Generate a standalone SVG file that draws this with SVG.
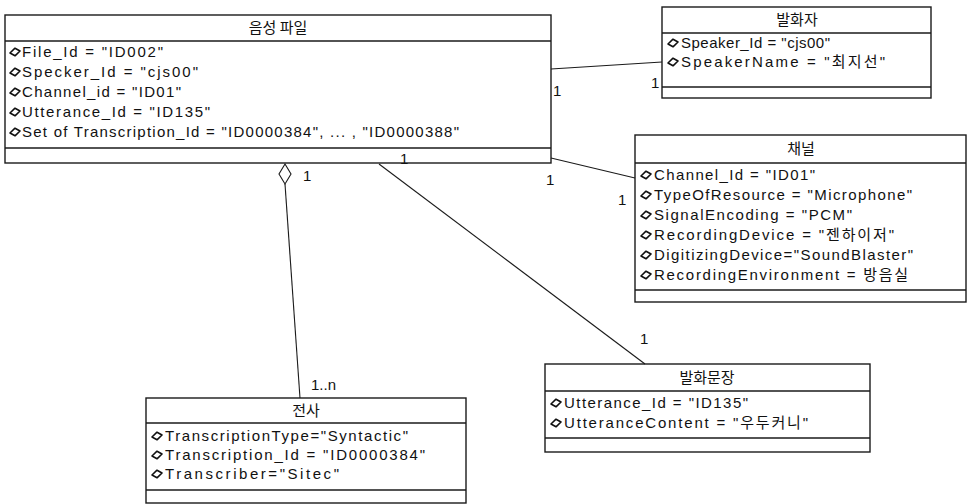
<svg xmlns="http://www.w3.org/2000/svg" width="968" height="504" viewBox="0 0 968 504">
<style>
.box{fill:#fff;stroke:#1a1a1a;stroke-width:1.4}
.sep{stroke:#1a1a1a;stroke-width:1.3;fill:none}
.conn{stroke:#1a1a1a;stroke-width:1.1;fill:none}
.t{font-family:"Liberation Sans","Noto Sans CJK KR",sans-serif;font-size:15px;fill:#111}
.ttl{font-family:"Noto Sans CJK KR","Liberation Sans",sans-serif;font-size:15px;fill:#111;text-anchor:middle}
.m{font-family:"Liberation Sans",sans-serif;font-size:15px;fill:#111}
</style>
<defs>
<polygon id="ai" points="-5,1 0,-3.8 5,-1 0,3.8" fill="#fff" stroke="#111" stroke-width="1.6" stroke-linejoin="round"/>
</defs>

<g id="node-audio">
<rect class="box" x="5" y="15" width="546" height="148"/>
<line class="sep" x1="5" y1="41" x2="551" y2="41"/>
<line class="sep" x1="5" y1="148" x2="551" y2="148"/>
<text class="ttl" x="278" y="33">음성 파일</text>
<use href="#ai" x="15" y="52"/>
<text class="t" x="22" y="57" textLength="141">File_Id = "ID002"</text>
<use href="#ai" x="15" y="72"/>
<text class="t" x="22" y="77" textLength="176">Specker_Id = "cjs00"</text>
<use href="#ai" x="15" y="92"/>
<text class="t" x="22" y="97" textLength="159">Channel_id = "ID01"</text>
<use href="#ai" x="15" y="112"/>
<text class="t" x="22" y="117" textLength="188">Utterance_Id = "ID135"</text>
<use href="#ai" x="15" y="132"/>
<text class="t" x="22" y="137" textLength="437">Set of Transcription_Id = "ID0000384", ... , "ID0000388"</text>
</g>

<g id="node-speaker">
<rect class="box" x="662" y="7" width="269" height="91"/>
<line class="sep" x1="662" y1="33" x2="931" y2="33"/>
<line class="sep" x1="662" y1="87" x2="931" y2="87"/>
<text class="ttl" x="797" y="25">발화자</text>
<use href="#ai" x="673" y="43"/>
<text class="t" x="681" y="48" textLength="149">Speaker_Id = "cjs00"</text>
<use href="#ai" x="673" y="62"/>
<text class="t" x="681" y="67" textLength="204">SpeakerName = "최지선"</text>
</g>

<g id="node-channel">
<rect class="box" x="635" y="135" width="331" height="167"/>
<line class="sep" x1="635" y1="163" x2="966" y2="163"/>
<line class="sep" x1="635" y1="290" x2="966" y2="290"/>
<text class="ttl" x="801" y="154">채널</text>
<use href="#ai" x="646" y="175"/>
<text class="t" x="654" y="180" textLength="161">Channel_Id = "ID01"</text>
<use href="#ai" x="646" y="195"/>
<text class="t" x="654" y="200" textLength="258">TypeOfResource = "Microphone"</text>
<use href="#ai" x="646" y="215"/>
<text class="t" x="654" y="220" textLength="198">SignalEncoding = "PCM"</text>
<use href="#ai" x="646" y="235"/>
<text class="t" x="654" y="240" textLength="240">RecordingDevice = "젠하이저"</text>
<use href="#ai" x="646" y="255"/>
<text class="t" x="654" y="260" textLength="259">DigitizingDevice="SoundBlaster"</text>
<use href="#ai" x="646" y="275"/>
<text class="t" x="654" y="280" textLength="254">RecordingEnvironment = 방음실</text>
</g>

<g id="node-utterance">
<rect class="box" x="545" y="364" width="325" height="88"/>
<line class="sep" x1="545" y1="391" x2="870" y2="391"/>
<line class="sep" x1="545" y1="438" x2="870" y2="438"/>
<text class="ttl" x="707" y="383">발화문장</text>
<use href="#ai" x="556" y="403"/>
<text class="t" x="564" y="408" textLength="184">Utterance_Id = "ID135"</text>
<use href="#ai" x="556" y="423"/>
<text class="t" x="564" y="428" textLength="244">UtteranceContent = "우두커니"</text>
</g>

<g id="node-transcription">
<rect class="box" x="146" y="398" width="320" height="105"/>
<line class="sep" x1="146" y1="423" x2="466" y2="423"/>
<line class="sep" x1="146" y1="490" x2="466" y2="490"/>
<text class="ttl" x="306" y="416">전사</text>
<use href="#ai" x="157" y="436"/>
<text class="t" x="165" y="441" textLength="243">TranscriptionType="Syntactic"</text>
<use href="#ai" x="157" y="455"/>
<text class="t" x="165" y="460" textLength="260">Transcription_Id = "ID0000384"</text>
<use href="#ai" x="157" y="474"/>
<text class="t" x="165" y="479" textLength="174">Transcriber="Sitec"</text>
</g>

<g id="connectors">
<line class="conn" x1="551" y1="69" x2="662" y2="62"/>
<line class="conn" x1="551" y1="158" x2="635" y2="178"/>
<line class="conn" x1="379" y1="164" x2="645" y2="364"/>
<polygon class="conn" points="285,164 291,174 285,184 279,174" fill="#fff"/>
<line class="conn" x1="285" y1="184" x2="300" y2="398"/>
<text class="m" x="553" y="96">1</text>
<text class="m" x="651" y="88">1</text>
<text class="m" x="546" y="185">1</text>
<text class="m" x="618" y="205">1</text>
<text class="m" x="400" y="164">1</text>
<text class="m" x="640" y="344">1</text>
<text class="m" x="303" y="181">1</text>
<text class="m" x="311" y="390">1..n</text>
</g>
</svg>
